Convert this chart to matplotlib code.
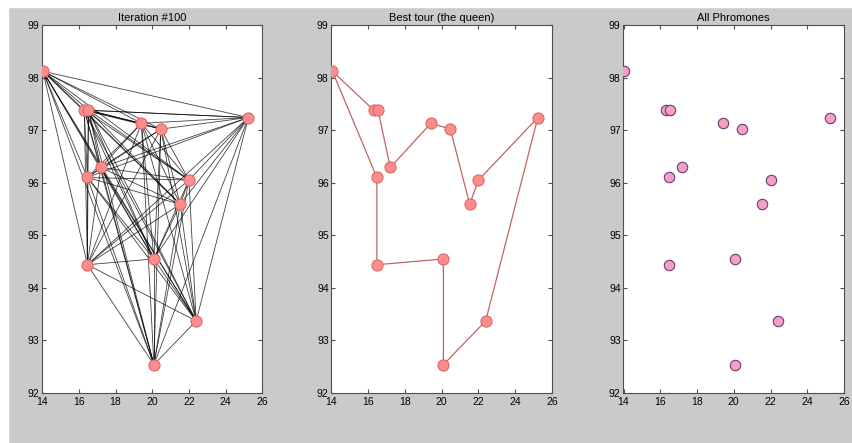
import matplotlib
matplotlib.use('Agg')
import matplotlib.pyplot as plt
from matplotlib.patches import Rectangle
import itertools

# burma14 city coordinates
city_x = [16.47, 16.47, 20.09, 22.39, 25.23, 22.00, 20.47, 17.20, 16.30, 14.05, 16.53, 21.52, 19.41, 20.09]
city_y = [96.10, 94.44, 92.54, 93.37, 97.24, 96.05, 97.02, 96.29, 97.38, 98.12, 97.38, 95.59, 97.13, 94.55]

# best tour, as city indices (closed)
best_tour = [9, 8, 10, 7, 12, 6, 11, 5, 4, 3, 2, 13, 1, 0, 9]

titles = ["Iteration #100", "Best tour (the queen)", "All Phromones"]
xticks = [14, 16, 18, 20, 22, 24, 26]
yticks = [92, 93, 94, 95, 96, 97, 98, 99]

plt.rcParams['font.family'] = ['Liberation Sans', 'DejaVu Sans']

fig = plt.figure(figsize=(8.53, 4.43), dpi=100, facecolor='#cacaca')
# white strip on the left / top edge
fig.patches.append(Rectangle((0, 0), 8 / 853, 1, transform=fig.transFigure, color='white', zorder=-1))
fig.patches.append(Rectangle((0, 1 - 7 / 443), 1, 7 / 443, transform=fig.transFigure, color='white', zorder=-1))

lefts = [42 / 853, 331.5 / 853, 623.5 / 853]
axes = []
for l in lefts:
    ax = fig.add_axes([l, 50 / 443, 220.5 / 853, 368 / 443])
    ax.set_xlim(14, 26)
    ax.set_ylim(92, 99)
    ax.set_xticks(xticks)
    ax.set_yticks(yticks)
    ax.tick_params(direction='in', top=True, right=True, labelsize=7.5, length=3,
                   color='#505050')
    ax.tick_params(axis='x', pad=3)
    ax.tick_params(axis='y', pad=2)
    for s in ax.spines.values():
        s.set_color('#505050')
        s.set_linewidth(0.8)
    axes.append(ax)

for ax, t in zip(axes, titles):
    ax.set_title(t, fontsize=8, pad=3)

# panel 1: all edges between cities
ax = axes[0]
for i, j in itertools.combinations(range(len(city_x)), 2):
    ax.plot([city_x[i], city_x[j]], [city_y[i], city_y[j]], color='black', lw=0.6, alpha=0.75)
ax.plot(city_x, city_y, 'o', ms=8, mfc='#ff8c8c', mec='#d86a6a', mew=0.8, zorder=3)

# panel 2: best tour
ax = axes[1]
tx = [city_x[k] for k in best_tour]
ty = [city_y[k] for k in best_tour]
ax.plot(tx, ty, '-', color='#c06464', lw=0.9)
ax.plot(city_x, city_y, 'o', ms=8, mfc='#ff8c8c', mec='#d86a6a', mew=0.8, zorder=3)

# panel 3: cities only
ax = axes[2]
ax.plot(city_x, city_y, 'o', ms=7.5, mfc='#f4a0c0', mec='#6a3a80', mew=0.8, zorder=3)

fig.savefig('out.png', dpi=100, facecolor=fig.get_facecolor())
